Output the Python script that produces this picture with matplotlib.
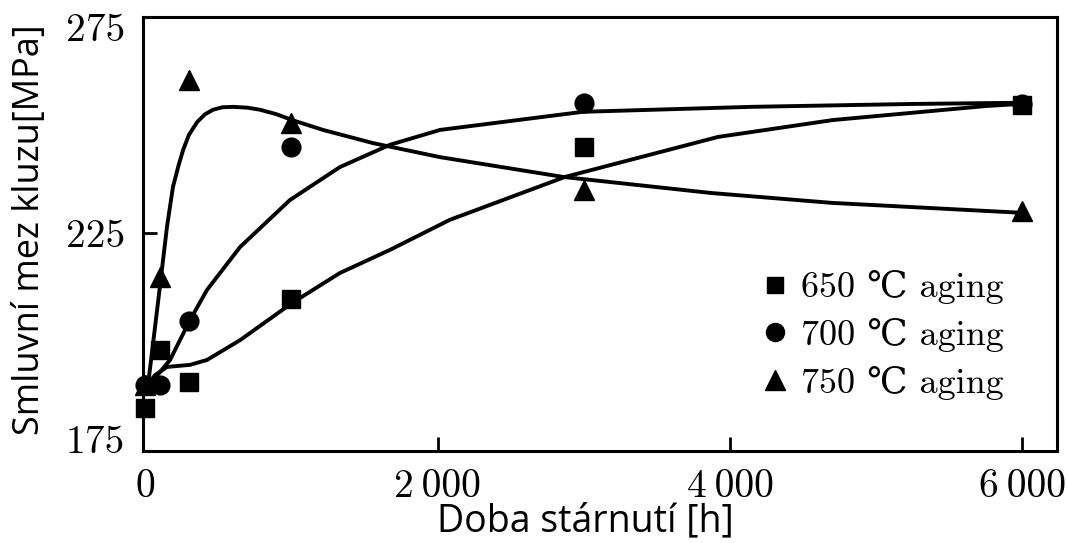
import matplotlib
matplotlib.use("Agg")
import matplotlib.pyplot as plt
from matplotlib.lines import Line2D

# ---- measured data points ----
aging_time_h = [0, 100, 300, 1000, 3000, 6000]
ys_650 = [182.5, 196.6, 188.8, 209.0, 245.9, 256.1]
ys_700 = [188.0, 188.0, 203.6, 245.9, 256.6, 256.3]
ys_750 = [188.0, 214.3, 262.1, 251.7, 235.4, 230.4]

# ---- fitted curves ----
fit650_x = [0, 68, 150, 308, 424, 650, 1005, 1333, 1675, 2085, 2872, 3918, 4704, 5750, 5983]
fit650_y = [187.4, 190.5, 192.5, 193.0, 194.2, 199.0, 208.0, 215.3, 220.9, 228.2, 238.6, 248.3, 252.4, 255.8, 256.3]

fit700_x = [14, 68, 171, 308, 424, 650, 991, 1333, 1675, 2017, 2995, 4144, 5244, 5990]
fit700_y = [186.9, 189.8, 194.2, 203.9, 211.2, 221.6, 233.0, 241.0, 246.4, 250.0, 254.4, 255.6, 256.3, 256.6]

fit750_x = [14, 103, 150, 191, 230, 260, 300, 356, 410, 465, 530, 602, 700, 786, 900, 1005, 1217, 1559, 2017, 2858, 3870, 4697, 5990]
fit750_y = [186.2, 212.4, 226.5, 236.2, 241.5, 245.1, 248.8, 251.9, 253.8, 254.9, 255.5, 255.6, 255.4, 254.9, 253.8, 252.4, 250.0, 246.8, 243.4, 238.6, 234.7, 232.3, 229.9]

x_ticks = [0, 2000, 4000, 6000]
x_tick_labels = ["0", "2\u2009000", "4\u2009000", "6\u2009000"]
y_ticks = [175, 225, 275]
y_tick_labels = ["175", "225", "275"]
legend_labels = ["650 \u2103 aging", "700 \u2103 aging", "750 \u2103 aging"]

serif = ["cmr10", "DejaVu Serif"]

fig = plt.figure(figsize=(10.68, 5.43), dpi=100)
ax = fig.add_axes([143 / 1068, 1 - 451 / 543, (1057 - 143) / 1068, (451 - 17) / 543])

lw = 2.8
for fx, fy in ((fit650_x, fit650_y), (fit700_x, fit700_y), (fit750_x, fit750_y)):
    ax.plot(fx, fy, color="black", lw=lw, solid_capstyle="round",
            solid_joinstyle="round", zorder=2)

ax.plot(aging_time_h, ys_650, ls="none", marker="s", ms=12.5, color="black", clip_on=False, zorder=3)
ax.plot(aging_time_h, ys_700, ls="none", marker="o", ms=13.5, color="black", clip_on=False, zorder=3)
ax.plot(aging_time_h, ys_750, ls="none", marker="^", ms=15, color="black", clip_on=False, zorder=3)

ax.set_xlim(-14, 6236)
ax.set_ylim(172.1, 277.4)

ax.set_xticks(x_ticks)
ax.set_xticklabels(x_tick_labels)
ax.set_yticks(y_ticks)
ax.set_yticklabels(y_tick_labels)
for lab in ax.get_xticklabels() + ax.get_yticklabels():
    lab.set_family(serif)
    lab.set_fontsize(28.5)
ax.tick_params(axis="both", direction="in", length=10, width=2, colors="black")
ax.tick_params(axis="x", pad=13)
ax.tick_params(axis="y", pad=13)
# only the 225 tick mark is visible on y, and 0 sits on the frame
yt = ax.yaxis.get_major_ticks()
yt[0].tick1line.set_visible(False)
yt[2].tick1line.set_visible(False)
ax.xaxis.get_major_ticks()[0].tick1line.set_visible(False)

for sp in ax.spines.values():
    sp.set_linewidth(2.2)
    sp.set_color("black")

handles = [
    Line2D([], [], ls="none", marker="s", ms=12, color="black"),
    Line2D([], [], ls="none", marker="o", ms=13, color="black"),
    Line2D([], [], ls="none", marker="^", ms=14, color="black"),
]
leg = ax.legend(handles, legend_labels, loc="upper left",
                bbox_to_anchor=(752 / 1068, 1 - 263 / 543), bbox_transform=fig.transFigure,
                frameon=False, handlelength=0.85, handletextpad=0.3, labelspacing=0.38,
                borderaxespad=0, borderpad=0.2, prop={"family": serif, "size": 26})

fig.text(30 / 1068, 1 - 230 / 543, "Smluvní mez kluzu[MPa]", rotation=90,
         ha="center", va="center", family="Open Sans", fontsize=26)
fig.text(585 / 1068, 1 - 521 / 543, "Doba stárnutí [h]",
         ha="center", va="center", family="Open Sans", fontsize=27)

fig.savefig("out.png", dpi=100, facecolor="white")
